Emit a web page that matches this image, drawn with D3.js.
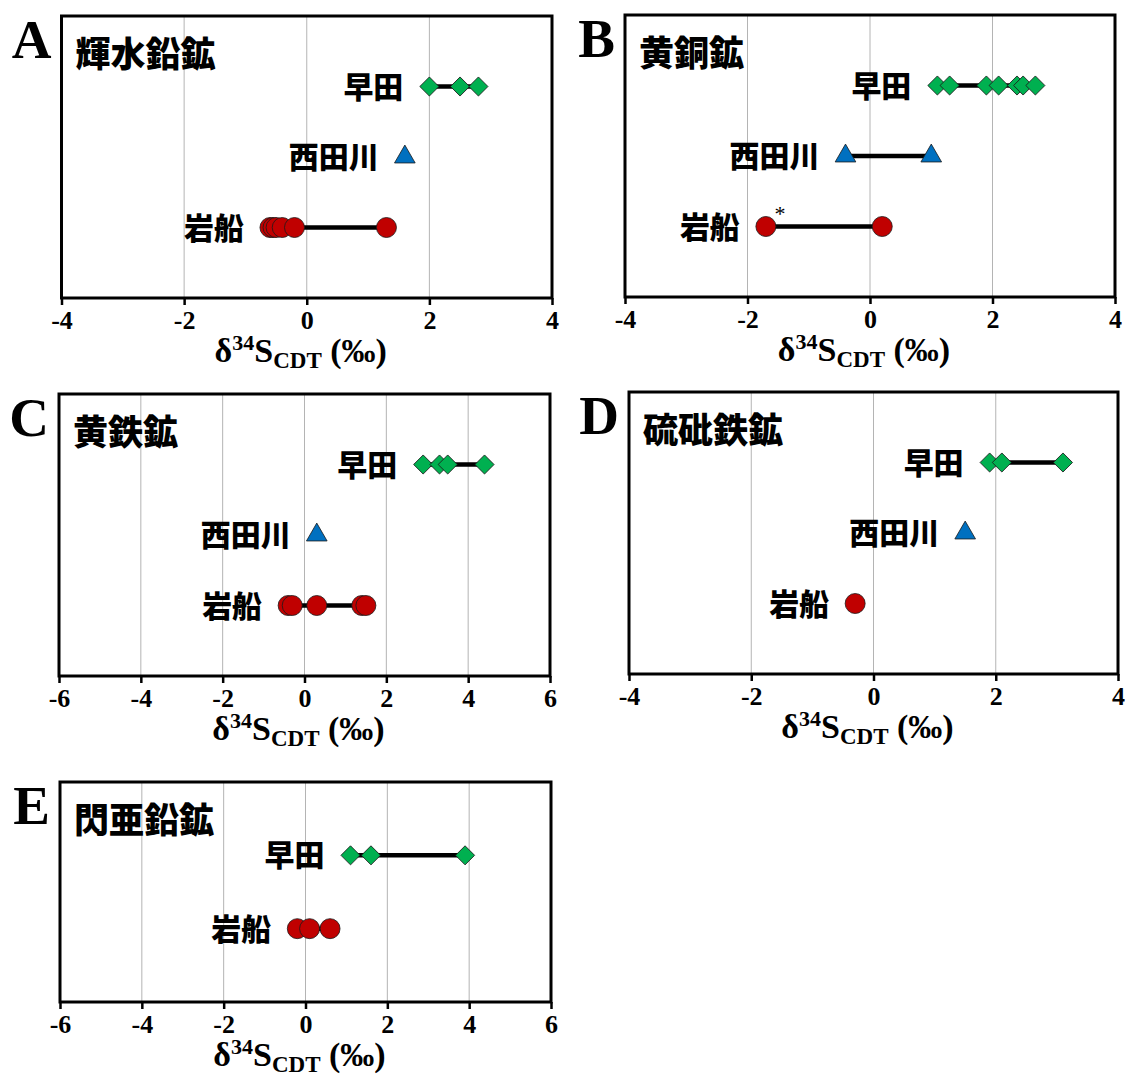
<!DOCTYPE html>
<html>
<head>
<meta charset="utf-8">
<script src="https://cdn.jsdelivr.net/npm/d3@7"></script>
<style>
  html, body { margin: 0; padding: 0; background: #fff; }
  svg { display: block; }
</style>
</head>
<body>
<script>
// Sulfur isotope ratios (δ34S, ‰ vs CDT) of sulfide minerals from three deposits.
const panelLetters = ['A', 'B', 'C', 'D', 'E'];
const minerals = ['輝水鉛鉱', '黄銅鉱', '黄鉄鉱', '硫砒鉄鉱', '閃亜鉛鉱'];
const sites = ['早田', '西田川', '岩船'];

// One list of measured values per panel for each site (null = no data).
const hayataValues      = [[2.0, 2.5, 2.8], [1.1, 1.3, 1.9, 2.1, 2.4, 2.5, 2.7], [2.9, 3.3, 3.5, 4.4], [1.9, 2.1, 3.1], [1.1, 1.6, 3.9]];
const nishitagawaValues = [[1.6], [-0.4, 1.0], [0.3], [1.5], null];
const iwafuneValues     = [[-0.6, -0.55, -0.5, -0.4, -0.2, 1.3], [-1.7, 0.2], [-0.4, -0.3, 0.3, 1.4, 1.5], [-0.3], [-0.2, 0.1, 0.6]];

const xDomains = [[-4, 4], [-4, 4], [-6, 6], [-4, 4], [-6, 6]];
const xTickValues = [[-4, -2, 0, 2, 4], [-4, -2, 0, 2, 4], [-6, -4, -2, 0, 2, 4, 6], [-4, -2, 0, 2, 4], [-6, -4, -2, 0, 2, 4, 6]];
const xTickLabels = [['-4', '-2', '0', '2', '4'], ['-4', '-2', '0', '2', '4'], ['-6', '-4', '-2', '0', '2', '4', '6'], ['-4', '-2', '0', '2', '4'], ['-6', '-4', '-2', '0', '2', '4', '6']];

// Footnote mark attached to one sample (panel B, 岩船, -1.7 ‰).
const noteMarks = [{ panel: 1, site: '岩船', value: -1.7, text: '*' }];

// ---- layout and styling ----
const W = 1126, H = 1079;
const frames = [
  { left: 61.5, right: 552, top: 16, bottom: 298 },
  { left: 625, right: 1115, top: 15, bottom: 297 },
  { left: 59, right: 550, top: 394, bottom: 676 },
  { left: 629, right: 1118, top: 392, bottom: 674 },
  { left: 60, right: 551, top: 782, bottom: 1002 }
];
const siteStyle = {
  '早田':  { symbol: 'diamond', fill: '#00b050' },
  '西田川': { symbol: 'triangle', fill: '#0070c0' },
  '岩船':  { symbol: 'circle', fill: '#c00000' }
};
const serif = '"Liberation Serif", "Times New Roman", serif';
const cjk = '"Noto Sans CJK JP", "Noto Sans CJK SC", sans-serif';

const svg = d3.select('body').append('svg').attr('width', W).attr('height', H);
svg.append('rect').attr('width', W).attr('height', H).attr('fill', '#fff');

const seriesBySite = { '早田': hayataValues, '西田川': nishitagawaValues, '岩船': iwafuneValues };

const symbolGen = {
  diamond: d3.symbol().type(d3.symbolSquare).size(182),
  triangle: d3.symbol().type(d3.symbolTriangle).size(185),
  circle: d3.symbol().type(d3.symbolCircle).size(Math.PI * 10 * 10)
};

frames.forEach((f, i) => {
  const g = svg.append('g');
  const rows = sites.filter(s => seriesBySite[s][i] && seriesBySite[s][i].length);
  const x = d3.scaleLinear().domain(xDomains[i]).range([f.left, f.right]);
  const y = d3.scaleLinear().domain([0, rows.length + 1]).range([f.bottom, f.top]);
  const rowValue = s => rows.length - rows.indexOf(s);

  // vertical gridlines at interior ticks
  const inner = xTickValues[i].filter(v => v > xDomains[i][0] && v < xDomains[i][1]);
  g.append('g').selectAll('line').data(inner).join('line')
    .attr('x1', d => x(d)).attr('x2', d => x(d))
    .attr('y1', f.top).attr('y2', f.bottom)
    .attr('stroke', '#b4b4b4').attr('stroke-width', 1);

  // bottom axis ticks and labels
  const axis = d3.axisBottom(x)
    .tickValues(xTickValues[i])
    .tickFormat((d, k) => xTickLabels[i][k])
    .tickSizeInner(7).tickSizeOuter(0).tickPadding(6);
  const ax = g.append('g').attr('transform', `translate(0,${f.bottom})`).call(axis);
  ax.select('.domain').remove();
  ax.selectAll('.tick line').attr('stroke', '#000').attr('stroke-width', 2.5);
  ax.selectAll('.tick text')
    .attr('fill', '#000')
    .style('font-family', serif).style('font-weight', 'bold').style('font-size', '26px');

  // plot frame
  g.append('rect')
    .attr('x', f.left).attr('y', f.top)
    .attr('width', f.right - f.left).attr('height', f.bottom - f.top)
    .attr('fill', 'none').attr('stroke', '#000').attr('stroke-width', 3);

  // axis title: δ34S_CDT (‰)
  const t = g.append('text')
    .attr('x', (f.left + f.right) / 2 - 6).attr('y', f.bottom + 64)
    .attr('text-anchor', 'middle')
    .style('font-family', serif).style('font-weight', 'bold').style('font-size', '34px')
    .attr('fill', '#000');
  t.append('tspan').text('δ');
  t.append('tspan').attr('dy', -12).style('font-size', '22px').text('34');
  t.append('tspan').attr('dy', 12).text('S');
  t.append('tspan').attr('dy', 6).style('font-size', '23px').text('CDT');
  t.append('tspan').attr('dy', -6).text(' (‰)');

  // panel letter and mineral name
  g.append('text')
    .attr('x', f.left - 10).attr('y', f.top + 42)
    .attr('text-anchor', 'end')
    .style('font-family', serif).style('font-weight', 'bold').style('font-size', '55px')
    .attr('fill', '#000').text(panelLetters[i]);
  g.append('text')
    .attr('x', f.left + 14).attr('y', f.top + 35)
    .attr('dominant-baseline', 'central')
    .style('font-family', cjk).style('font-weight', '900').style('font-size', '35px')
    .attr('fill', '#000').text(minerals[i]);

  // each site: range line, markers, label
  rows.forEach(s => {
    const vals = seriesBySite[s][i];
    const cy = y(rowValue(s));
    const [lo, hi] = d3.extent(vals);
    if (hi > lo) {
      g.append('line')
        .attr('x1', x(lo)).attr('x2', x(hi))
        .attr('y1', cy).attr('y2', cy)
        .attr('stroke', '#000').attr('stroke-width', 4.5);
    }
    const st = siteStyle[s];
    g.append('g').selectAll('path').data(vals).join('path')
      .attr('d', symbolGen[st.symbol]())
      .attr('transform', d => `translate(${x(d)},${cy})` + (st.symbol === 'diamond' ? ' rotate(45)' : ''))
      .attr('fill', st.fill)
      .attr('stroke', '#1a1a1a').attr('stroke-width', 0.8);
    g.append('text')
      .attr('x', x(lo) - 26).attr('y', cy - 2)
      .attr('text-anchor', 'end').attr('dominant-baseline', 'central')
      .style('font-family', cjk).style('font-weight', '900').style('font-size', '30px')
      .attr('fill', '#000').text(s);

    noteMarks.filter(n => n.panel === i && n.site === s).forEach(n => {
      g.append('text')
        .attr('x', x(n.value) + 14).attr('y', cy - 6)
        .attr('text-anchor', 'middle')
        .style('font-family', serif).style('font-size', '22px')
        .attr('fill', '#000').text(n.text);
    });
  });
});
</script>
</body>
</html>
